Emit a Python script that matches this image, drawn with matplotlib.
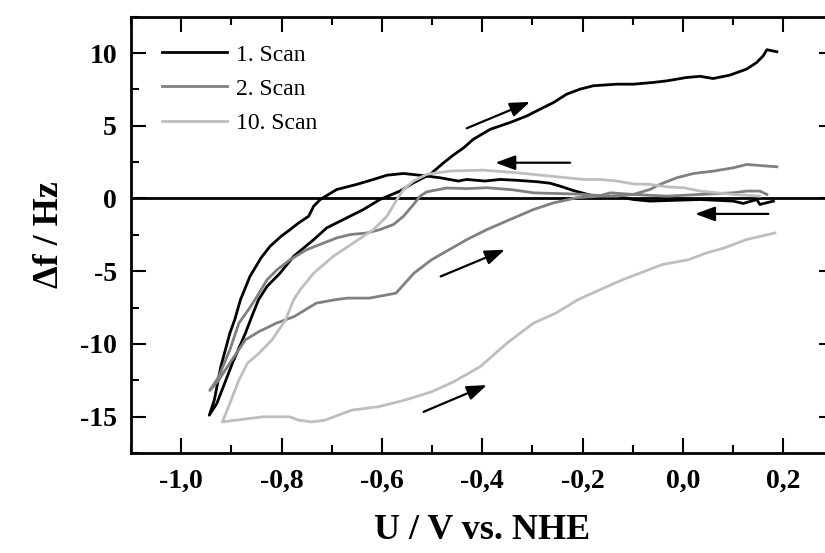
import matplotlib
matplotlib.use("Agg")
import matplotlib.pyplot as plt
from matplotlib.ticker import FixedLocator, FixedFormatter, MultipleLocator

plt.rcParams['font.family'] = ['Liberation Serif', 'DejaVu Serif']

# ---------------- data ----------------
scan1_x = [0.18, 0.153, 0.147, 0.12, 0.10, 0.034, -0.066, -0.099, -0.130, -0.165, -0.192, -0.219,
           -0.245, -0.265, -0.29, -0.33, -0.364, -0.395, -0.431, -0.448, -0.483, -0.52, -0.557,
           -0.59, -0.617, -0.650, -0.690, -0.723, -0.736, -0.746, -0.766, -0.783, -0.801, -0.823,
           -0.841, -0.863, -0.882, -0.893, -0.903, -0.921, -0.934, -0.944,
           -0.929, -0.916, -0.898, -0.872, -0.858, -0.846, -0.829, -0.803, -0.776, -0.756, -0.736,
           -0.710, -0.677, -0.637, -0.604, -0.564, -0.537, -0.504, -0.477, -0.457, -0.437, -0.418,
           -0.384, -0.345, -0.311, -0.285, -0.258, -0.232, -0.205, -0.179, -0.132, -0.099, -0.059,
           -0.032, 0.007, 0.034, 0.060, 0.093, 0.127, 0.147, 0.160, 0.167, 0.187]
scan1_y = [-0.18, -0.41, -0.07, -0.34, -0.18, -0.07, -0.18, -0.07, 0.12, 0.05, 0.30, 0.55,
           0.85, 1.05, 1.15, 1.25, 1.31, 1.20, 1.31, 1.20, 1.42, 1.58, 1.72,
           1.60, 1.31, 0.97, 0.62, -0.07, -0.53, -1.22, -1.68, -2.14, -2.60, -3.29,
           -4.09, -5.36, -6.97, -8.30, -9.26, -11.56, -13.86, -14.90,
           -14.09, -12.94, -11.33, -9.26, -8.00, -6.97, -6.05, -5.13, -3.98, -3.40, -2.83,
           -2.02, -1.45, -0.76, -0.07, 0.51, 1.08, 1.66, 2.46, 3.00, 3.49, 4.07,
           4.76, 5.22, 5.68, 6.14, 6.60, 7.17, 7.52, 7.75, 7.86, 7.86, 7.98,
           8.09, 8.32, 8.40, 8.25, 8.48, 8.90, 9.36, 9.82, 10.23, 10.09]

scan2_x = [0.167, 0.153, 0.127, 0.10, 0.034, -0.033, -0.099, -0.145, -0.165, -0.21, -0.26, -0.298,
           -0.34, -0.391, -0.43, -0.471, -0.497, -0.511, -0.524, -0.537, -0.557, -0.577, -0.604,
           -0.630, -0.663, -0.690, -0.716, -0.750, -0.783, -0.809, -0.829, -0.849, -0.863, -0.885,
           -0.903, -0.925, -0.943,
           -0.925, -0.899, -0.872, -0.845, -0.810, -0.775, -0.731, -0.695, -0.669, -0.625, -0.589,
           -0.572, -0.554, -0.536, -0.501, -0.466, -0.431, -0.391, -0.345, -0.298, -0.258, -0.212,
           -0.165, -0.132, -0.099, -0.066, -0.046, -0.013, 0.021, 0.060, 0.10, 0.127, 0.167, 0.187]
scan2_y = [0.28, 0.51, 0.51, 0.39, 0.28, 0.16, 0.28, 0.39, 0.20, 0.30, 0.35, 0.39,
           0.60, 0.74, 0.68, 0.72, 0.55, 0.45, 0.16, -0.41, -1.22, -1.79, -2.14,
           -2.37, -2.48, -2.71, -3.06, -3.52, -4.21, -4.90, -5.59, -6.74, -7.50, -8.57,
           -10.40, -12.25, -13.20,
           -12.48, -11.10, -9.72, -9.15, -8.57, -8.12, -7.20, -6.97, -6.85, -6.85, -6.62,
           -6.51, -5.82, -5.13, -4.21, -3.52, -2.83, -2.14, -1.45, -0.76, -0.30, 0.05,
           0.16, 0.16, 0.28, 0.62, 0.97, 1.42, 1.72, 1.88, 2.11, 2.34, 2.23, 2.18]

scan10_x = [0.153, 0.10, 0.034, 0.001, -0.033, -0.066, -0.099, -0.132, -0.165, -0.198, -0.265,
            -0.331, -0.398, -0.464, -0.511, -0.537, -0.557, -0.570, -0.590, -0.617, -0.657,
            -0.697, -0.736, -0.763, -0.776, -0.792, -0.819, -0.845, -0.868, -0.885, -0.903, -0.918,
            -0.881, -0.837, -0.784, -0.766, -0.740, -0.713, -0.687, -0.660, -0.607, -0.554, -0.501,
            -0.457, -0.404, -0.351, -0.298, -0.254, -0.210, -0.166, -0.121, -0.086, -0.042, 0.011,
            0.046, 0.082, 0.126, 0.183]
scan10_y = [0.16, 0.28, 0.51, 0.74, 0.80, 0.97, 1.00, 1.20, 1.31, 1.31, 1.54,
            1.77, 1.95, 1.89, 1.66, 1.20, 0.62, -0.07, -1.22, -2.14, -3.06,
            -3.98, -5.13, -6.28, -6.97, -8.35, -9.72, -10.64, -11.33, -12.48, -14.09, -15.36,
            -15.20, -15.01, -15.01, -15.24, -15.36, -15.24, -14.90, -14.55, -14.32, -13.86, -13.29,
            -12.60, -11.56, -9.95, -8.57, -7.89, -6.97, -6.28, -5.59, -5.13, -4.55, -4.21,
            -3.75, -3.40, -2.83, -2.37]

series_labels = ['1. Scan', '2. Scan', '10. Scan']
series_colors = ['#000000', '#808080', '#bebebe']

# arrows: (tail_x, tail_y, head_x, head_y) in data units
arrow_tails_x = [-0.431, -0.225, 0.170, -0.483, -0.517]
arrow_tails_y = [4.83, 2.46, -1.06, -5.36, -14.67]
arrow_heads_x = [-0.305, -0.374, 0.024, -0.355, -0.391]
arrow_heads_y = [6.64, 2.46, -1.06, -3.52, -12.83]

xtick_vals = [-1.0, -0.8, -0.6, -0.4, -0.2, 0.0, 0.2]
xtick_labels = ['-1,0', '-0,8', '-0,6', '-0,4', '-0,2', '0,0', '0,2']
ytick_vals = [-15, -10, -5, 0, 5, 10]
ytick_labels = ['-15', '-10', '-5', '0', '5', '10']

# ---------------- figure ----------------
fig = plt.figure(figsize=(8.25, 5.53), dpi=100)
ax = fig.add_axes([131 / 825, 100 / 553, 702.6 / 825, 436.3 / 553])

for xs, ys, lab, col in zip([scan1_x, scan2_x, scan10_x], [scan1_y, scan2_y, scan10_y],
                            series_labels, series_colors):
    ax.plot(xs, ys, color=col, lw=2.0, label=lab, solid_joinstyle='round')

ax.axhline(0, color='black', lw=2.0, zorder=1)

for tx, ty, hx, hy in zip(arrow_tails_x, arrow_tails_y, arrow_heads_x, arrow_heads_y):
    ax.annotate('', xy=(hx, hy), xytext=(tx, ty),
                arrowprops=dict(arrowstyle='-|>,head_length=0.6,head_width=0.22',
                                color='black', lw=1.6, mutation_scale=20,
                                shrinkA=0, shrinkB=0))

ax.set_xlim(-1.1, 0.3)
ax.set_ylim(-17.5, 12.5)

ax.xaxis.set_major_locator(FixedLocator(xtick_vals))
ax.xaxis.set_major_formatter(FixedFormatter(xtick_labels))
ax.xaxis.set_minor_locator(MultipleLocator(0.1))
ax.yaxis.set_major_locator(FixedLocator(ytick_vals))
ax.yaxis.set_major_formatter(FixedFormatter(ytick_labels))
ax.yaxis.set_minor_locator(MultipleLocator(2.5))

ax.tick_params(which='both', direction='in', top=True, right=True, width=1.5)
ax.tick_params(which='major', length=10.5, labelsize=20)
ax.tick_params(axis='x', which='major', pad=11)
ax.tick_params(axis='y', which='major', pad=10)
ax.tick_params(which='minor', length=5.5)
for lab in ax.get_xticklabels() + ax.get_yticklabels():
    lab.set_fontweight('bold')
for sp in ax.spines.values():
    sp.set_linewidth(2.0)

ax.set_xlabel('U / V vs. NHE', fontsize=26, fontweight='bold', labelpad=15)
ax.set_ylabel('\u0394f / Hz', fontsize=26, fontweight='bold', labelpad=10)

ax.legend(loc='upper left', bbox_to_anchor=(0.0437, 0.937), frameon=False,
          fontsize=17, handlelength=2.75, handletextpad=0.4, labelspacing=0.53,
          borderpad=0, borderaxespad=0)

fig.savefig('out.png', dpi=100)
